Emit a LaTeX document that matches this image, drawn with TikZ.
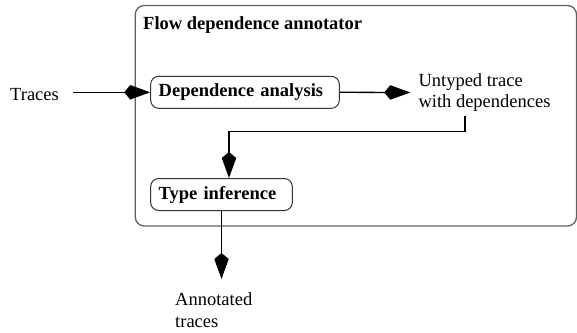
\documentclass[tikz,border=0pt]{standalone}
\usepackage{fontspec}
\setmainfont{Liberation Serif}
\usetikzlibrary{arrows.meta,calc}

\begin{document}
\begin{tikzpicture}[x=1pt,y=1pt,
  every node/.style={font=\fontsize{18.5}{21.7}\selectfont},
  group/.style={draw=black!62, line width=1.3pt, rounded corners=9pt},
  stage/.style={draw=black!80, line width=1pt, rounded corners=8pt,
    minimum height=32pt, inner xsep=8pt, inner ysep=0pt, align=left,
    font=\fontsize{18.5}{21.7}\selectfont\bfseries},
  label/.style={inner sep=0pt, align=left},
  conn/.style={draw=black, line width=1.3pt,
    -{Kite[length=26pt,width=14.5pt,inset=6pt]}}]

\useasboundingbox (0,0) rectangle (577,-332);

% enclosing component
\draw[group] (135.3,-5.5) rectangle (576.5,-226);
\node[anchor=base west, inner sep=0pt, font=\fontsize{18.5}{21.7}\selectfont\bfseries]
  (title) at (143,-29) {Flow dependence annotator};

% processing stages
\node[stage, text width=172.6pt] (da) at (245,-92.3) {Dependence analysis};
\node[stage, text width=125.6pt] (ti) at (221.5,-194.5) {Type inference};

% data labels
\node[label, anchor=base west] (traces) at (10,-100) {Traces};
\node[label, anchor=west] (untyped) at (418.3,-92.5) {Untyped trace\\with dependences};
\node[label, anchor=north west] (annot) at (175,-292.4) {Annotated\\traces};

% flow
\coordinate (knee) at (229,-131.7);
\coordinate (drop) at (465,-116);
\draw[conn] ([xshift=14pt]traces.east |- da.west) -- (da.west);
\draw[conn] (da.east) -- ([xshift=-8pt]untyped.west);
\draw[conn] (drop) |- (knee) -- (knee |- ti.north);
\draw[conn] (ti.south) -- ($(ti.south |- annot.north)+(0,13.4)$);
\end{tikzpicture}
\end{document}
